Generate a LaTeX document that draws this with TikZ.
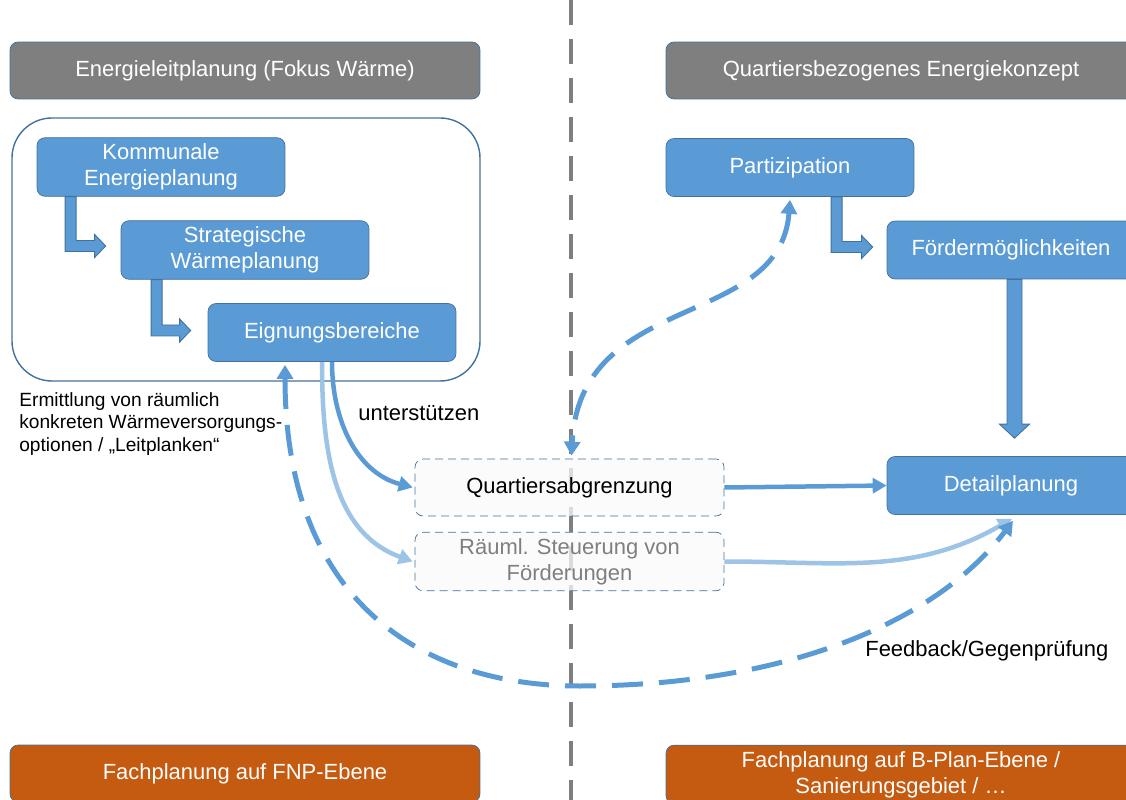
\documentclass[tikz,border=0pt]{standalone}
\usepackage{fontspec}
\setmainfont{Liberation Sans}
\usepackage{tikz}
\usetikzlibrary{arrows.meta,calc}
\definecolor{bluefill}{HTML}{5B9BD5}
\definecolor{blueline}{HTML}{41719C}
\definecolor{bluelight}{HTML}{9DC3E6}
\definecolor{headgray}{HTML}{7F7F7F}
\definecolor{fnporange}{HTML}{C55A11}
\definecolor{paleback}{HTML}{FAFAFA}
\newcommand{\boxfont}{\fontsize{12.5}{15}\selectfont}
\newcommand{\notefont}{\fontsize{10.9}{12.8}\selectfont}
\newcommand{\bendarrow}[2]{%
  \draw[bendarr] let \p1=(#1), \p2=(#2) in
    (\x1-0.11cm,\y1) -- (\x1-0.11cm,\y2-0.11cm) -- (\x2-0.22cm,\y2-0.11cm)
    -- (\x2-0.22cm,\y2-0.23cm) -- (\x2,\y2) -- (\x2-0.22cm,\y2+0.23cm)
    -- (\x2-0.22cm,\y2+0.11cm) -- (\x1+0.11cm,\y2+0.11cm) -- (\x1+0.11cm,\y1) -- cycle;}
\tikzset{
  headbox/.style={ draw=blueline, fill=headgray, text=white, rounded corners=0.16cm, minimum width=9.4cm, minimum height=1.14cm, font=\boxfont }
}
\tikzset{
  planbox/.style={ draw=blueline, fill=bluefill, text=white, rounded corners=0.16cm, minimum width=4.96cm, minimum height=1.16cm, align=center, font=\boxfont }
}
\tikzset{
  dashbox/.style={ draw=blueline, dash pattern=on 0.16cm off 0.1cm, fill=paleback, fill opacity=0.75, text opacity=1, rounded corners=0.16cm, minimum width=6.18cm, minimum height=1.14cm, align=center, font=\boxfont }
}
\tikzset{
  basebox/.style={ draw=blueline, fill=fnporange, text=white, rounded corners=0.16cm, minimum width=9.4cm, minimum height=1.14cm, align=center, font=\boxfont }
}
\tikzset{
  bendarr/.style={ draw=blueline, fill=bluefill, line width=0.5pt }
}
\tikzset{
  flow/.style={ draw=bluefill, line width=0.09cm, -{Triangle[length=0.28cm, width=0.3cm]} }
}
\tikzset{
  flowlight/.style={ flow, draw=bluelight }
}
\tikzset{
  feedback/.style={ draw=bluefill, line width=0.1cm, dash pattern=on 0.62cm off 0.32cm, {Triangle[length=0.28cm, width=0.32cm]}-{Triangle[length=0.28cm, width=0.32cm]} }
}
\tikzset{
  divider/.style={ draw=headgray, line width=0.08cm, dash pattern=on 0.5cm off 0.28cm }
}
\tikzset{
  areaframe/.style={ draw=blueline, line width=0.8pt, rounded corners=0.8cm }
}
\tikzset{
  edgetext/.style={ font=\boxfont, inner sep=0pt }
}
\tikzset{
  sidenote/.style={ font=\notefont, align=left, inner sep=0pt }
}

\begin{document}
\begin{tikzpicture}[x=0.02cm, y=-0.02cm]
  \useasboundingbox (0,0) rectangle (1126,800);

  \draw[divider] (571,0) -- (571,800);

  \node[headbox] (headL) at (245,70.5) {Energieleitplanung (Fokus Wärme)};
  \node[headbox] (headR) at (901,70.5) {Quartiersbezogenes Energiekonzept};

  \draw[areaframe] (12,118) rectangle (480,381);

  \node[planbox] (kom) at (161,167) {Kommunale\\Energieplanung};
  \node[planbox] (strat) at (245,250) {Strategische\\Wärmeplanung};
  \node[planbox] (eign) at (332,332.5) {Eignungsbereiche};
  \bendarrow{$(kom.south west)+(34,0)$}{$(strat.west)+(-15,-4)$}
  \bendarrow{$(strat.south west)+(36,0)$}{$(eign.west)+(-17,-2)$}

  \node[planbox] (part) at (790,167.5) {Partizipation};
  \node[planbox] (foerd) at (1011,250) {Fördermöglichkeiten};
  \node[planbox] (detail) at (1011,485.5) {Detailplanung};
  \bendarrow{$(part.south west)+(171,0)$}{$(foerd.west)+(-14,-3)$}
  \draw[bendarr] let \p1=($(foerd.south)+(3.5,0)$), \p2=($(detail.north)+(3.5,-18)$) in
    (\x1-0.15cm,\y1) -- (\x1-0.15cm,\y2+0.28cm) -- (\x1-0.3cm,\y2+0.28cm) -- (\x2,\y2)
    -- (\x1+0.3cm,\y2+0.28cm) -- (\x1+0.15cm,\y2+0.28cm) -- (\x1+0.15cm,\y1) -- cycle;

  \node[dashbox] (quart) at (569.5,487.5) {Quartiersabgrenzung};
  \node[dashbox, text=headgray] (raeuml) at (569.5,561.5) {Räuml. Steuerung von\\Förderungen};

  \node[sidenote, anchor=north west] (ermitt) at (19,392) {Ermittlung von räumlich\\konkreten Wärmeversorgungs-\\optionen / „Leitplanken“};
  \node[edgetext, anchor=west] (unterst) at (358,413) {unterstützen};
  \node[edgetext, anchor=west] (feedb) at (865,651) {Feedback/Gegenprüfung};

  \draw[flow] (eign.south) to[out=-90, in=165] ($(quart.west)+(-2,0)$);
  \draw[flowlight] ($(eign.south)+(-10,0)$) to[out=-90, in=160] ($(raeuml.west)+(-2,0)$);
  \draw[flow] (quart.east) -- (detail.west);
  \draw[flowlight] (raeuml.east) to[out=0, in=210] ($(detail.south)+(1,4)$);

  \draw[feedback] ($(eign.south)+(-47,3)$) .. controls (285,600) and (420,686) .. (580,686)
    .. controls (770,686) and (930,630) .. ($(detail.south)+(2,6)$);
  \draw[feedback] ($(part.south)+(0,3)$) .. controls (780,330) and (580,290) .. ($(quart.north)+(2,-3)$);

  \node[basebox] (fnp) at (245,773.5) {Fachplanung auf FNP-Ebene};
  \node[basebox] (bplan) at (901,774.5) {Fachplanung auf B-Plan-Ebene /\\Sanierungsgebiet / \ldots};
\end{tikzpicture}
\end{document}
